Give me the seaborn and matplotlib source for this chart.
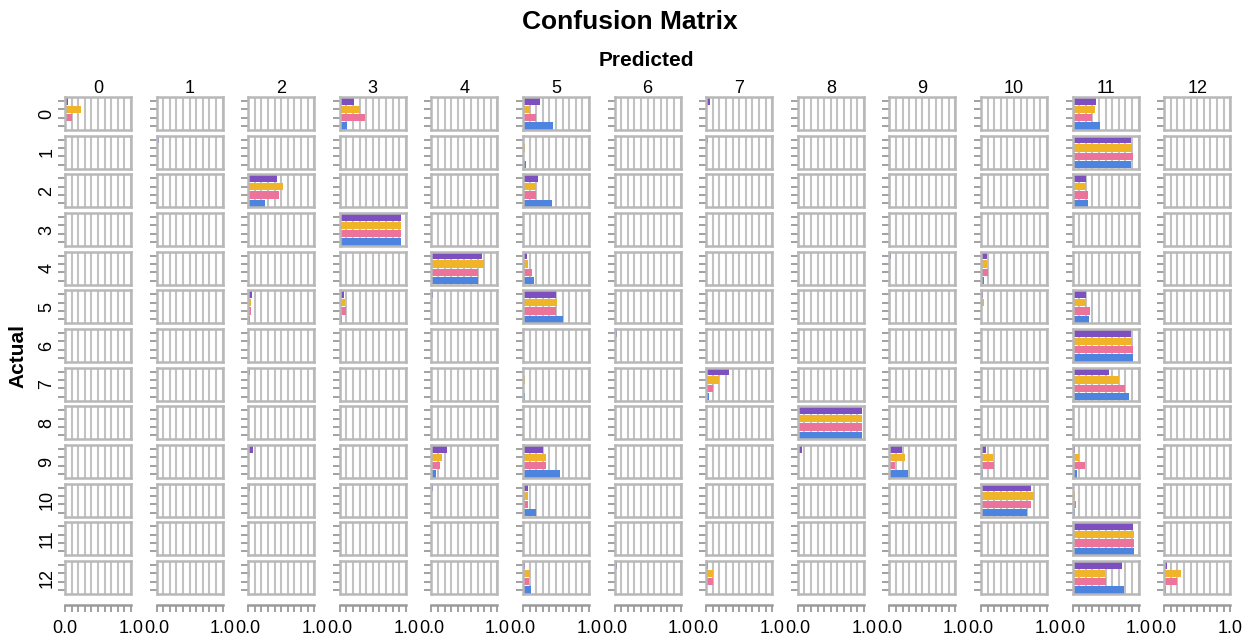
import numpy as np
import pandas as pd
import seaborn as sns
import matplotlib.pyplot as plt

# class labels and the four models (one colour each)
classes = list(range(13))
models = ['model_1', 'model_2', 'model_3', 'model_4']
colors = ['#7e4fbe', '#f0b429', '#ec7399', '#4c84e0']

# normalised confusion rates, rows = actual, columns = predicted
purple_rates = [
    [0.05, 0, 0, 0.22, 0, 0.25, 0, 0.06, 0, 0, 0, 0.36, 0],
    [0, 0.03, 0.01, 0, 0, 0.01, 0, 0.02, 0, 0, 0, 0.89, 0],
    [0.01, 0, 0.44, 0, 0, 0.22, 0, 0.01, 0.01, 0, 0.01, 0.21, 0],
    [0, 0, 0, 0.92, 0, 0, 0, 0.01, 0.01, 0, 0, 0.01, 0],
    [0, 0, 0, 0, 0.77, 0.06, 0, 0, 0.01, 0.02, 0.09, 0, 0],
    [0, 0, 0.06, 0.06, 0.02, 0.50, 0, 0, 0.01, 0.01, 0.03, 0.21, 0],
    [0, 0, 0.01, 0, 0, 0, 0.04, 0, 0, 0, 0, 0.88, 0],
    [0, 0.01, 0.03, 0, 0, 0.02, 0, 0.34, 0, 0, 0, 0.55, 0],
    [0, 0, 0, 0, 0, 0, 0, 0, 0.97, 0, 0, 0, 0],
    [0, 0, 0.08, 0, 0.23, 0.31, 0, 0, 0.06, 0.19, 0.07, 0.03, 0],
    [0, 0, 0.03, 0, 0.02, 0.08, 0, 0, 0.01, 0, 0.75, 0.02, 0],
    [0, 0, 0, 0, 0, 0, 0, 0, 0, 0, 0, 0.91, 0],
    [0, 0.01, 0, 0.02, 0, 0.03, 0.03, 0.02, 0.02, 0, 0, 0.75, 0.04],
]
yellow_rates = [
    [0.24, 0, 0, 0.30, 0, 0.10, 0, 0, 0, 0, 0, 0.34, 0],
    [0, 0.02, 0, 0, 0, 0.03, 0, 0, 0, 0, 0, 0.90, 0.01],
    [0, 0, 0.52, 0, 0.01, 0.19, 0, 0.01, 0.01, 0, 0.02, 0.20, 0.01],
    [0.01, 0, 0, 0.92, 0, 0.01, 0, 0.01, 0.01, 0, 0, 0.01, 0],
    [0, 0, 0, 0, 0.79, 0.08, 0, 0, 0.01, 0, 0.09, 0.01, 0],
    [0.01, 0, 0.05, 0.08, 0.01, 0.52, 0, 0.02, 0.01, 0.01, 0.05, 0.20, 0.01],
    [0, 0, 0.02, 0, 0, 0.01, 0, 0, 0, 0, 0, 0.90, 0.01],
    [0, 0, 0, 0, 0, 0.03, 0, 0.20, 0, 0, 0, 0.70, 0.01],
    [0, 0, 0, 0, 0, 0, 0, 0, 0.97, 0, 0, 0.01, 0],
    [0, 0, 0.01, 0, 0.16, 0.35, 0, 0, 0, 0.24, 0.18, 0.10, 0],
    [0, 0, 0.01, 0, 0.01, 0.07, 0, 0, 0, 0, 0.80, 0.03, 0],
    [0.01, 0, 0.01, 0, 0, 0.01, 0, 0, 0, 0, 0, 0.93, 0.01],
    [0, 0.01, 0.02, 0.01, 0, 0.10, 0, 0.10, 0.01, 0, 0, 0.49, 0.25],
]
pink_rates = [
    [0.10, 0, 0, 0.38, 0, 0.20, 0, 0, 0, 0, 0, 0.29, 0],
    [0, 0.01, 0, 0, 0, 0.01, 0, 0, 0, 0, 0, 0.91, 0.01],
    [0, 0, 0.47, 0.01, 0, 0.19, 0, 0.01, 0, 0, 0.02, 0.24, 0.01],
    [0, 0, 0, 0.93, 0, 0, 0, 0, 0.01, 0, 0, 0.01, 0],
    [0, 0, 0.01, 0, 0.70, 0.13, 0, 0, 0.01, 0, 0.10, 0.01, 0],
    [0, 0, 0.05, 0.09, 0.01, 0.50, 0, 0.01, 0, 0, 0.02, 0.27, 0.01],
    [0, 0, 0.01, 0, 0, 0, 0.01, 0, 0, 0, 0, 0.92, 0.01],
    [0, 0, 0.01, 0, 0, 0.01, 0, 0.10, 0, 0, 0, 0.80, 0],
    [0, 0, 0, 0, 0, 0, 0, 0, 0.97, 0, 0, 0, 0],
    [0, 0, 0, 0, 0.13, 0.35, 0, 0, 0.01, 0.09, 0.20, 0.19, 0],
    [0, 0, 0.01, 0, 0.01, 0.08, 0, 0.01, 0, 0, 0.75, 0.05, 0],
    [0, 0, 0, 0, 0, 0, 0, 0, 0, 0, 0, 0.93, 0],
    [0, 0, 0, 0.01, 0, 0.09, 0, 0.10, 0.02, 0, 0, 0.51, 0.20],
]
blue_rates = [
    [0, 0, 0, 0.11, 0, 0.46, 0, 0, 0, 0, 0, 0.41, 0],
    [0, 0.02, 0, 0, 0, 0.05, 0, 0, 0, 0, 0, 0.89, 0],
    [0, 0, 0.25, 0, 0, 0.44, 0, 0.01, 0, 0, 0.01, 0.24, 0],
    [0, 0, 0, 0.92, 0, 0.02, 0, 0, 0.01, 0, 0, 0.02, 0],
    [0, 0, 0, 0, 0.71, 0.16, 0, 0, 0.01, 0.01, 0.05, 0, 0],
    [0, 0.02, 0.03, 0.04, 0, 0.60, 0, 0.01, 0, 0, 0.02, 0.25, 0],
    [0, 0, 0, 0, 0, 0.02, 0.01, 0, 0, 0, 0, 0.92, 0],
    [0, 0.02, 0, 0, 0, 0.03, 0, 0.05, 0, 0, 0, 0.86, 0],
    [0, 0, 0, 0, 0, 0, 0, 0, 0.97, 0, 0, 0, 0],
    [0, 0, 0, 0, 0.07, 0.56, 0, 0, 0.01, 0.28, 0.03, 0.06, 0],
    [0, 0, 0, 0, 0, 0.19, 0, 0, 0.01, 0, 0.70, 0.04, 0],
    [0, 0.01, 0, 0, 0, 0.02, 0, 0, 0, 0, 0, 0.93, 0],
    [0, 0, 0, 0.01, 0, 0.12, 0, 0.01, 0.01, 0, 0, 0.78, 0.02],
]

# long format table for seaborn
records = []
for m, mat in zip(models, [purple_rates, yellow_rates, pink_rates, blue_rates]):
    for a in classes:
        for p in classes:
            records.append((a, p, m, mat[a][p]))
df = pd.DataFrame(records, columns=['actual', 'predicted', 'model', 'rate'])

sns.set_style('white')
plt.rcParams['font.family'] = ['Liberation Sans', 'DejaVu Sans']
plt.rcParams['text.color'] = 'black'
plt.rcParams['axes.labelcolor'] = 'black'
plt.rcParams['xtick.color'] = 'black'
plt.rcParams['ytick.color'] = 'black'

W, H = 1253, 642
fig = plt.figure(figsize=(W / 100, H / 100), dpi=100)

frame_col = '#b8b8b8'
tick_col = '#9a9a9a'
pal = dict(zip(models, colors))

# panel geometry in pixels
x0, dx, pw = 65, 91.6, 66
y0, dy, ph = 97, 38.67, 33

for a in classes:
    for p in classes:
        ax = fig.add_axes([(x0 + p * dx) / W, 1 - (y0 + a * dy + ph) / H, pw / W, ph / H])
        sub = df[(df.actual == a) & (df.predicted == p)]
        sns.barplot(data=sub, x='rate', y='model', hue='model', order=models,
                    hue_order=models, palette=pal, orient='h', width=0.88,
                    errorbar=None, saturation=1, legend=False, linewidth=0, ax=ax)
        ax.set_xlim(0, 1)
        ax.set_ylim(3.5, -0.5)
        ax.set_xticks(np.linspace(0, 1, 11))
        ax.xaxis.grid(True, color='#c2c2c2', lw=1.5)
        ax.set_axisbelow(True)
        for s in ax.spines.values():
            s.set_color(frame_col)
            s.set_linewidth(1.8)
        ax.tick_params(axis='y', left=True, length=5, width=1.3, color=tick_col, labelleft=False)
        ax.set_xlabel('')
        if p == 0:
            ax.set_ylabel(str(a), fontsize=13, labelpad=2)
        else:
            ax.set_ylabel('')
        if a == 0:
            ax.set_title(str(p), fontsize=13, pad=1)
        if a == classes[-1]:
            ax.spines['bottom'].set_position(('outward', 8))
            ax.spines['bottom'].set_color(tick_col)
            ax.axhline(3.5, color=frame_col, lw=1.8, clip_on=False)
            ax.tick_params(axis='x', bottom=True, length=5, width=1.3, color=tick_col,
                           labelbottom=True, labelsize=13, pad=6)
            ax.set_xticklabels(['0.0'] + [''] * 9 + ['1.0'])
        else:
            ax.tick_params(axis='x', bottom=False, labelbottom=False)

fig.text(630 / W, 1 - 22 / H, 'Confusion Matrix', ha='center', va='center',
         fontsize=19, fontweight='bold')
fig.text(646 / W, 1 - 60 / H, 'Predicted', ha='center', va='center',
         fontsize=15, fontweight='bold')
fig.text(18 / W, 1 - 356 / H, 'Actual', ha='center', va='center', rotation=90,
         fontsize=15, fontweight='bold')

fig.savefig('out.png', dpi=100)
